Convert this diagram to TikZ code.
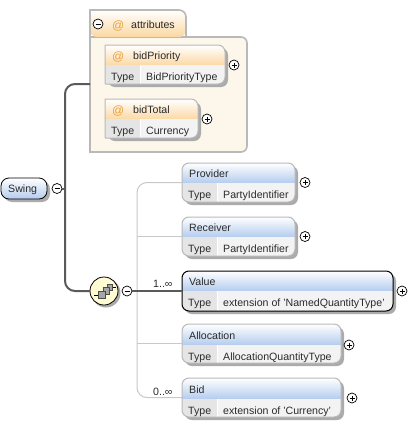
\documentclass[tikz,border=0pt]{standalone}
\usepackage{fontspec}
\setmainfont{Liberation Sans}
\definecolor{edge}{HTML}{B9B9B9}
\definecolor{shadowc}{HTML}{ABABAB}
\definecolor{bluehead}{HTML}{B4CCEE}
\definecolor{orangehead}{HTML}{FBD9A6}
\definecolor{cellL}{HTML}{E5E5E5}
\definecolor{cellR}{HTML}{F3F3F3}
\definecolor{atbody}{HTML}{FDF6EA}
\definecolor{atsign}{HTML}{E8A33C}
\definecolor{wire}{HTML}{5A5A5A}
\definecolor{lightwire}{HTML}{C8C8C8}
\definecolor{txt}{HTML}{2A2A2A}
\definecolor{seqfill}{HTML}{FFFBD2}
\tikzset{
  x=1pt,y=-1pt,
  label text/.style={font=\fontsize{10.6}{12}\selectfont,text=txt,inner sep=0pt,anchor=base west},
  at mark/.style={font=\fontsize{12}{12}\selectfont,text=atsign,inner sep=0pt,anchor=base west},
  anchor box/.style={inner sep=0pt,outer sep=0pt,anchor=north west},
  toggle/.style={circle,draw=black,fill=white,line width=0.7pt,minimum size=10pt,inner sep=0pt,outer sep=0pt},
  main wire/.style={draw=wire,line width=2pt,rounded corners=10pt},
  side wire/.style={draw=lightwire,line width=1pt,rounded corners=10pt},
}
\newcommand{\headcol}{bluehead}
\newcommand{\framecol}{edge}
\newcommand{\framew}{1pt}
\newcommand{\leftr}{7pt}
% #1 name #2 x1 #3 y1 #4 x2 #5 y2 #6 header bottom #7 cell x #8 title #9 type
\newcommand{\elembody}[9]{%
  \fill[shadowc,rounded corners=7pt] (#2+3,#3+3) rectangle (#4+3,#5+3);
  \begin{scope}
    \clip[rounded corners=\leftr] (#2,#5) -- (#2,#3) [rounded corners=7pt] -- (#4,#3) -- (#4,#5) [rounded corners=\leftr] -- cycle;
    \shade[top color=white,bottom color=\headcol] (#2,#3) rectangle (#4,#6);
    \fill[cellL] (#2,#6) rectangle (#7,#5);
    \fill[cellR] (#7,#6) rectangle (#4,#5);
    \draw[white,line width=1pt] (#7,#6) -- (#7,#5);
  \end{scope}
  \draw[draw=\framecol,line width=\framew,rounded corners=\leftr] (#2,#5) -- (#2,#3) [rounded corners=7pt] -- (#4,#3) -- (#4,#5) [rounded corners=\leftr] -- cycle;
  \node[anchor box,minimum width=\the\numexpr#4-#2\relax pt,minimum height=\the\numexpr#5-#3\relax pt] (#1) at (#2,#3) {};
  \node[label text] (#1title) at (#2+7,#6-6) {#8};
  \node[label text] (#1typekey) at (#2+6,#6+15) {Type};
  \node[label text] (#1type) at (#7+6,#6+15) {#9};
}
\newcommand{\plusbtn}[3]{%
  \node[toggle] (#1) at (#2,#3) {};
  \draw[black,line width=0.7pt] (#2-2.5,#3) -- (#2+2.5,#3) (#2,#3-2.5) -- (#2,#3+2.5);
}
\newcommand{\minusbtn}[3]{%
  \node[toggle] (#1) at (#2,#3) {};
  \draw[black,line width=0.7pt] (#2-2.5,#3) -- (#2+2.5,#3);
}
\begin{document}
\begin{tikzpicture}
\useasboundingbox[fill=white] (0,0) rectangle (415,424);
% attributes group
\path[fill=atbody,draw=edge,line width=1.6pt,rounded corners=6pt]
  (90,37) [sharp corners] -- (90,152) [rounded corners=6pt] -- (247,152) -- (247,37) -- (186,37) [sharp corners] -- (90,37);
\begin{scope}
  \clip[rounded corners=7pt] (90,37) -- (90,10) -- (186,10) -- (186,37) -- cycle;
  \shade[top color=white,bottom color=orangehead] (90,10) rectangle (186,36);
\end{scope}
\draw[edge,line width=1.6pt,rounded corners=7pt] (90,37) [sharp corners] -- (90,10) [rounded corners=7pt] -- (186,10) -- (186,37);
\coordinate (attrport) at (90,84);
\coordinate (mainspine) at (65,188.5);
\minusbtn{attrtoggle}{98}{24}
\node[at mark] (attrat) at (112,29) {@};
\node[label text] (attrtitle) at (131,28) {attributes};
% Swing
\fill[shadowc,rounded corners=8pt] (4,181) rectangle (50,202);
\node[anchor box,draw=black,line width=0.8pt,rounded corners=8pt,minimum width=46pt,minimum height=21pt,
  top color=white,bottom color=bluehead] (swing) at (1,178) {};
\node[label text] (swingtitle) at (8,192) {Swing};
\minusbtn{swingtoggle}{57}{188.5}
% sequence
\fill[shadowc] (106,293) circle (14.5);
\node[circle,draw=black,line width=0.8pt,fill=seqfill,minimum size=28pt,inner sep=0pt,outer sep=0pt] (seq) at (104,291) {};
\begin{scope}[line width=0.6pt]
  \draw[black] (94,295) -- (98,295) (112,287) -- (116,287);
  \draw[black!70,fill=gray!70] (107,284) rectangle (112,290);
  \draw[black!70,fill=gray!70] (103,287) rectangle (109,294);
  \draw[black!70,fill=gray!70] (98,291) rectangle (105,298);
\end{scope}
\minusbtn{seqtoggle}{127}{291}
% attribute elements
\renewcommand{\headcol}{orangehead}
\renewcommand{\leftr}{0.5pt}
\elembody{bidpriority}{105}{45}{225}{84}{65}{140}{\hspace{21pt}bidPriority}{BidPriorityType}
\node[at mark] (bpat) at (112,60) {@};
\plusbtn{bidpriorityplus}{234}{65}
\elembody{bidtotal}{105}{99}{198}{138}{119}{140}{\hspace{21pt}bidTotal}{Currency}
\node[at mark] (btat) at (112,114) {@};
\plusbtn{bidtotalplus}{207}{119}
% child elements
\renewcommand{\headcol}{bluehead}
\renewcommand{\leftr}{7pt}
\elembody{provider}{182}{163}{295}{202}{183}{217}{Provider}{PartyIdentifier}
\plusbtn{providerplus}{305}{182.5}
\elembody{receiver}{182}{217}{295}{256}{237}{217}{Receiver}{PartyIdentifier}
\plusbtn{receiverplus}{305}{236.5}
\renewcommand{\framecol}{black}
\elembody{value}{182}{271}{393}{311}{291}{217}{Value}{extension of 'NamedQuantityType'}
\plusbtn{valueplus}{402}{291}
\renewcommand{\framecol}{edge}
\elembody{allocation}{182}{324}{341}{363}{345}{217}{Allocation}{AllocationQuantityType}
\plusbtn{allocationplus}{349}{345}
\elembody{bid}{182}{378}{341}{417}{399}{217}{Bid}{extension of 'Currency'}
\plusbtn{bidplus}{352}{398}
% side wires (light)
\coordinate (sidespine) at (137,291);
\draw[side wire] (provider.west) -- (provider.west -| sidespine) -- (bid.west -| sidespine) -- (bid.west);
\draw[side wire] (receiver.west -| sidespine) -- (receiver.west);
\draw[side wire] (allocation.west -| sidespine) -- (allocation.west);
% main wires
\draw[main wire] (swingtoggle.east) -- (mainspine);
\draw[main wire] (attrport) -- (attrport -| mainspine) -- (seq.west -| mainspine) -- (seq.west);
\draw[main wire] (seqtoggle.east) -- (value.west);
% cardinalities
\node[label text] (card1) at (153,287) {1..∞};
\node[label text] (card0) at (153,395) {0..∞};
\end{tikzpicture}
\end{document}
